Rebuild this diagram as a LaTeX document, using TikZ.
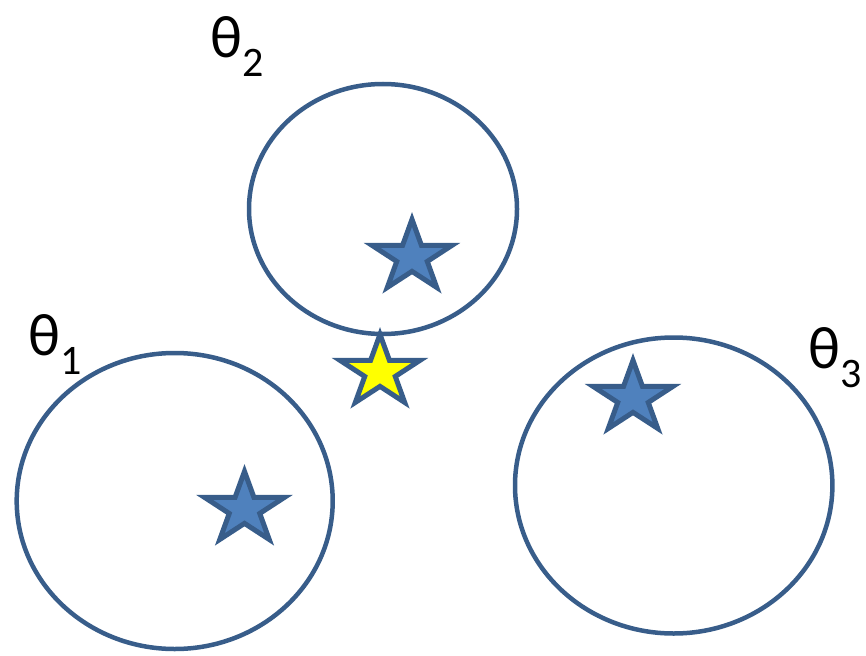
\documentclass[tikz,border=0pt]{standalone}
\usepackage{fontspec}
\setmainfont{Carlito}
\definecolor{edge}{HTML}{385D8A}
\definecolor{starblue}{HTML}{4F81BD}
\definecolor{staryellow}{HTML}{FFFF00}
\tikzset{
  starpic/.pic={\path[pic actions] (90:1) -- (126:0.382) -- (162:1) -- (198:0.382) -- (234:1) -- (270:0.382) -- (306:1) -- (342:0.382) -- (18:1) -- (54:0.382) -- cycle;},
  starstyle/.style={draw=edge, line width=5pt, line join=miter, xscale=42, yscale=-37.6},
  ring/.style={draw=edge, line width=4.5pt},
  label/.style={anchor=base west, inner sep=0pt, font=\fontsize{60}{60}\selectfont},
}
\newcommand{\subtxt}[1]{\raisebox{-19pt}{\fontsize{42}{42}\selectfont #1}}
\begin{document}
\begin{tikzpicture}[x=1pt,y=-1pt]
\useasboundingbox (0,0) rectangle (866,655);
\draw[ring] (383,209) ellipse [x radius=134pt, y radius=125pt];
\draw[ring] (174.7,501) ellipse [x radius=158pt, y radius=148pt];
\draw[ring] (673.7,485.5) ellipse [x radius=158.7pt, y radius=148pt];
\pic[starstyle, fill=starblue] (s2) at (412,257) {starpic};
\pic[starstyle, fill=starblue] (s1) at (244.5,509) {starpic};
\pic[starstyle, fill=starblue] (s3) at (633,398) {starpic};
\pic[starstyle, fill=staryellow] (s0) at (380,372) {starpic};
\node[label] (t2) at (210,58) {θ\subtxt{2}};
\node[label] (t1) at (28,355) {θ\subtxt{1}};
\node[label] (t3) at (808,368) {θ\subtxt{3}};
\end{tikzpicture}
\end{document}
